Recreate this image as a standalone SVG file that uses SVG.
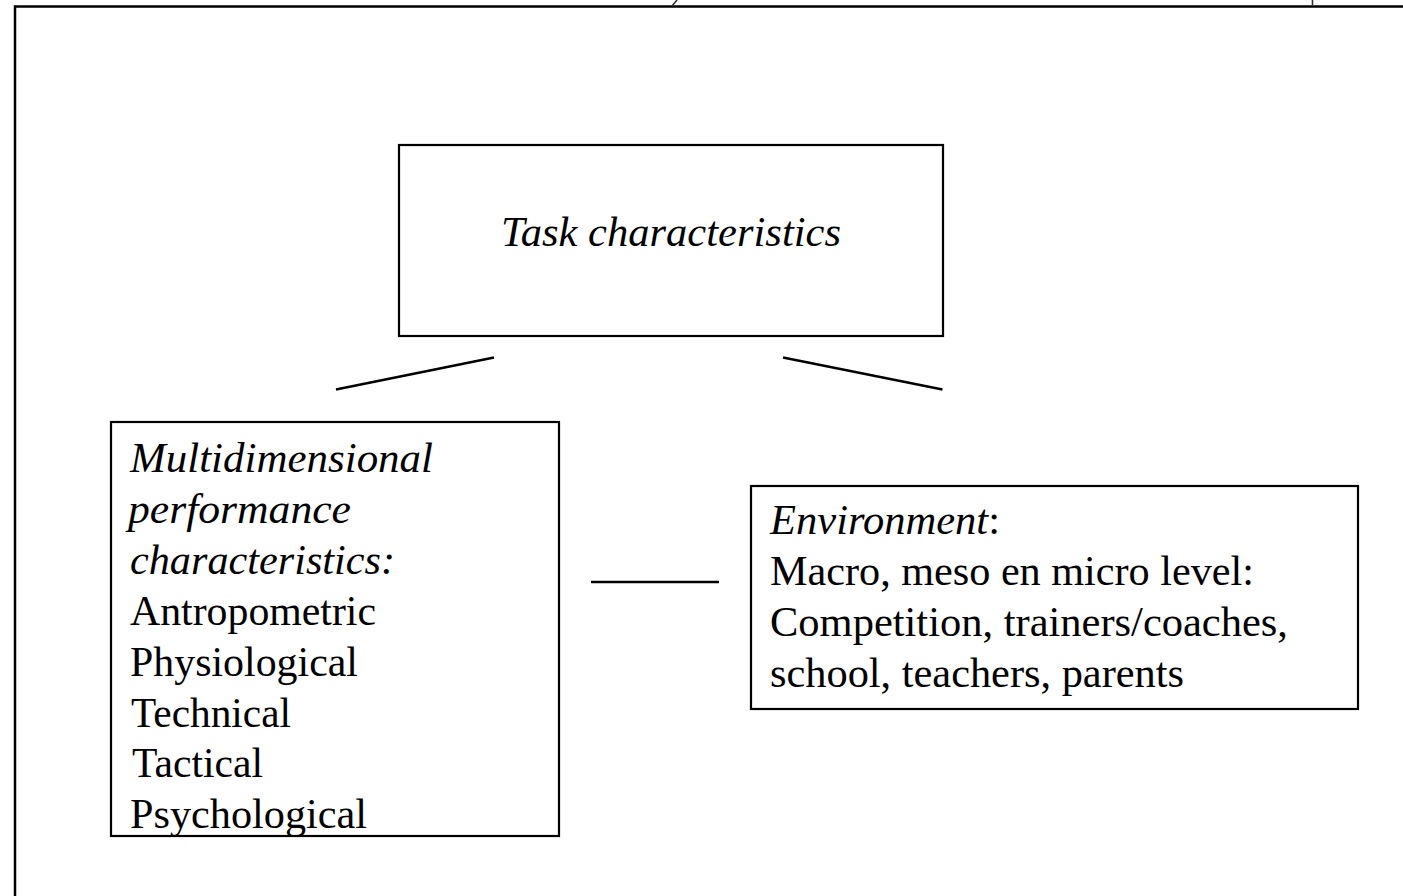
<svg xmlns="http://www.w3.org/2000/svg" width="1403" height="896" viewBox="0 0 1403 896">
  <style>
    .box { fill: #ffffff; stroke: #000000; stroke-width: 2.2; }
    .frame { fill: none; stroke: #000000; stroke-width: 2.5; }
    .tick { fill: none; stroke: #333333; stroke-width: 1.6; }
    .link { fill: none; stroke: #000000; stroke-width: 2.4; }
    text { font-family: "Liberation Serif", "Times New Roman", serif; font-size: 42px; fill: #000000; }
    .it { font-style: italic; }
  </style>
  <rect width="1403" height="896" fill="#ffffff"/>

  <!-- page frame -->
  <g id="frame">
    <path class="frame" d="M15,896 V6.5 H1403"/>
    <path class="tick" d="M677,0 L672,6"/>
    <path class="tick" d="M1312.5,0 V6"/>
  </g>

  <!-- connectors -->
  <g id="connectors">
    <line class="link" x1="336" y1="389.5" x2="494" y2="357.5"/>
    <line class="link" x1="783" y1="357.5" x2="942.5" y2="389.5"/>
    <line class="link" x1="591" y1="582" x2="719" y2="582"/>
  </g>

  <g id="task">
    <rect class="box" x="399" y="145" width="544" height="191"/>
    <text class="it" x="501" y="246" textLength="340" lengthAdjust="spacingAndGlyphs">Task characteristics</text>
  </g>

  <g id="performance">
    <rect class="box" x="111" y="422" width="448" height="414"/>
    <text class="it" x="130" y="472" textLength="303" lengthAdjust="spacingAndGlyphs">Multidimensional</text>
    <text class="it" x="128" y="523" textLength="223" lengthAdjust="spacingAndGlyphs">performance</text>
    <text class="it" x="130" y="574" textLength="265" lengthAdjust="spacingAndGlyphs">characteristics:</text>
    <text x="130" y="625" textLength="246" lengthAdjust="spacingAndGlyphs">Antropometric</text>
    <text x="130" y="676" textLength="228" lengthAdjust="spacingAndGlyphs">Physiological</text>
    <text x="131" y="727" textLength="160" lengthAdjust="spacingAndGlyphs">Technical</text>
    <text x="132" y="777" textLength="131" lengthAdjust="spacingAndGlyphs">Tactical</text>
    <text x="130" y="828" textLength="237" lengthAdjust="spacingAndGlyphs">Psychological</text>
  </g>

  <g id="environment">
    <rect class="box" x="751" y="486" width="607" height="223"/>
    <text x="770" y="534" textLength="230" lengthAdjust="spacingAndGlyphs"><tspan class="it">Environment</tspan>:</text>
    <text x="770" y="585" textLength="484" lengthAdjust="spacingAndGlyphs">Macro, meso en micro level:</text>
    <text x="770" y="636" textLength="518" lengthAdjust="spacingAndGlyphs">Competition, trainers/coaches,</text>
    <text x="770" y="687" textLength="414" lengthAdjust="spacingAndGlyphs">school, teachers, parents</text>
  </g>
</svg>
